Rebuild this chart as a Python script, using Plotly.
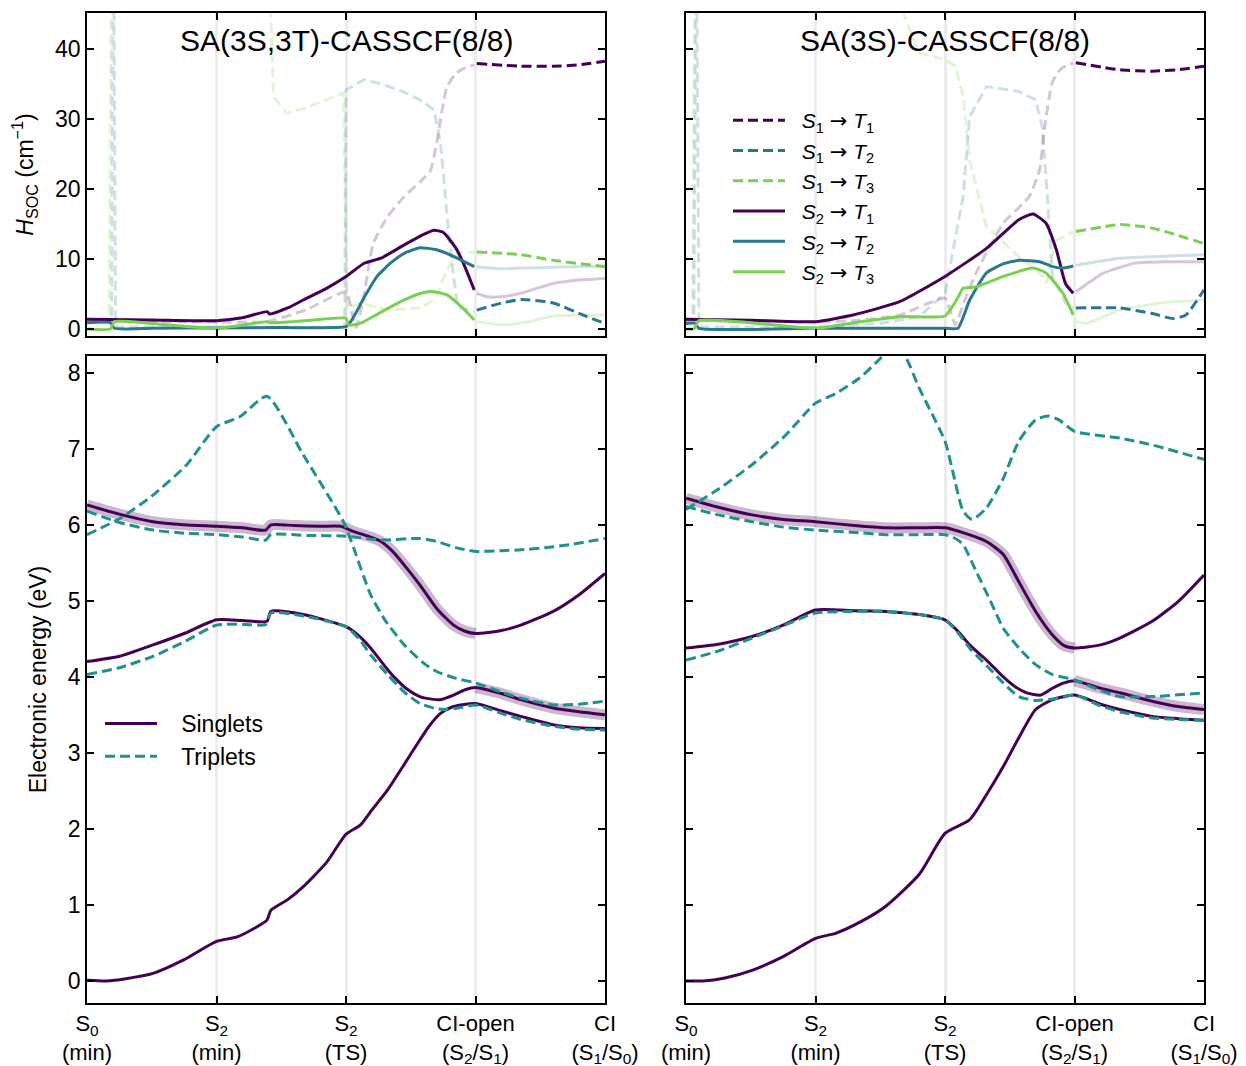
import plotly.graph_objects as go

# ---------------- tick labels / titles ----------------
TICK_VALS = [0, 1, 2, 3, 4]
TICK_TEXT = ["S<sub>0</sub><br>(min)", "S<sub>2</sub><br>(min)", "S<sub>2</sub><br>(TS)",
             "CI-open<br>(S<sub>2</sub>/S<sub>1</sub>)", "CI<br>(S<sub>1</sub>/S<sub>0</sub>)"]
PANEL_TITLES = ["SA(3S,3T)-CASSCF(8/8)", "SA(3S)-CASSCF(8/8)"]

# ---------------- SOC, left (SA(3S,3T)) ----------------
lt_s2t1_x = [0, 0.5, 1.0, 1.2, 1.39, 1.41, 1.55, 1.67, 1.85, 2.0, 2.14, 2.27, 2.45, 2.6, 2.68, 2.75, 2.85, 2.92, 2.99, 3.01, 3.09, 3.2, 3.35, 3.6, 3.8, 4.0]
lt_s2t1_y = [1.38, 1.3, 1.19, 1.6, 2.48, 2.14, 3.0, 4.14, 5.8, 7.48, 9.38, 10.1, 12.0, 13.5, 14.1, 13.8, 11.5, 8.8, 5.57, 5.1, 4.6, 4.6, 5.1, 6.5, 7.0, 7.2]
lt_s2t2_x = [0, 0.18, 0.21, 0.5, 1.0, 1.5, 2.0, 2.03, 2.06, 2.15, 2.24, 2.35, 2.45, 2.57, 2.7, 2.85, 2.99, 3.01, 3.2, 3.35, 3.6, 4.0]
lt_s2t2_y = [0.9, 0.9, 0.1, 0.1, 0.15, 0.2, 0.33, 0.9, 1.76, 4.8, 7.5, 9.5, 10.8, 11.6, 11.3, 10.2, 8.9, 8.9, 8.6, 8.7, 8.8, 9.0]
lt_s2t3_x = [0, 0.18, 0.21, 0.5, 1.0, 1.39, 1.41, 1.7, 2.0, 2.02, 2.11, 2.25, 2.45, 2.6, 2.68, 2.78, 2.9, 2.99, 3.01, 3.22, 3.4, 3.6, 4.0]
lt_s2t3_y = [0, 0, 1.05, 0.8, 0.1, 1.05, 0.9, 1.2, 1.52, 0.57, 0.81, 2.2, 4.14, 5.2, 5.33, 4.86, 3.0, 1.29, 1.05, 0.57, 1.0, 1.86, 2.0]
lt_s1t1_x = [0, 0.5, 1.0, 1.39, 1.7, 2.0, 2.05, 2.08, 2.14, 2.21, 2.32, 2.45, 2.6, 2.65, 2.7, 2.74, 2.78, 2.85, 2.91, 2.99, 3.01, 3.35, 3.6, 3.8, 4.0]
lt_s1t1_y = [1.2, 1.1, 1.0, 1.05, 2.8, 5.3, 2.0, 0.2, 5.0, 12.2, 16.0, 18.9, 21.5, 22.5, 26.5, 31.0, 34.6, 36.5, 37.2, 37.7, 37.9, 37.5, 37.5, 37.7, 38.2]
lt_s1t2_x = [0, 0.19, 0.205, 0.22, 0.5, 1.0, 1.5, 1.99, 2.0, 2.14, 2.3, 2.45, 2.57, 2.68, 2.73, 2.8, 2.86, 2.99, 3.01, 3.2, 3.35, 3.6, 3.86, 4.0]
lt_s1t2_y = [1.0, 1.0, 60, 0.3, 0.3, 0.3, 0.3, 0.3, 34.1, 35.6, 34.8, 33.8, 32.7, 31.3, 26.5, 12.2, 3.2, 2.5, 2.7, 3.7, 4.2, 3.7, 1.76, 0.8]
lt_s1t3_x = [0, 0.17, 0.19, 1.39, 1.44, 1.54, 1.7, 1.98, 2.01, 2.11, 2.32, 2.57, 2.68, 2.78, 2.86, 2.99, 3.01, 3.35, 3.6, 4.0]
lt_s1t3_y = [1.0, 1.0, 60, 60, 33.2, 30.8, 31.6, 33.7, 3.0, 3.7, 2.7, 3.0, 4.1, 8.4, 10.8, 11.0, 11.0, 10.6, 9.8, 8.9]

# ---------------- SOC, right (SA(3S)) ----------------
rt_s2t1_x = [0, 0.5, 1.0, 1.29, 1.65, 2.0, 2.32, 2.57, 2.68, 2.78, 2.86, 2.93, 2.99, 3.01, 3.22, 3.47, 3.7, 4.0]
rt_s2t1_y = [1.38, 1.25, 1.05, 2.0, 3.9, 7.5, 11.5, 15.6, 16.4, 15.1, 11.3, 6.5, 5.1, 5.3, 7.95, 9.4, 9.6, 9.6]
rt_s2t2_x = [0, 0.07, 0.1, 1.0, 2.0, 2.1, 2.19, 2.32, 2.45, 2.57, 2.73, 2.83, 2.91, 2.99, 3.01, 3.35, 3.7, 4.0]
rt_s2t2_y = [0.8, 0.8, 0.1, 0.1, 0.1, 0.1, 4.1, 8.0, 9.3, 9.8, 9.6, 8.9, 8.7, 9.0, 9.1, 10.1, 10.4, 10.6]
rt_s2t3_x = [0, 0.06, 0.1, 0.5, 1.0, 1.3, 1.65, 2.0, 2.1, 2.14, 2.24, 2.45, 2.68, 2.78, 2.91, 2.99, 3.01, 3.09, 3.35, 3.7, 4.0]
rt_s2t3_y = [0, 0, 1.2, 0.9, 0.1, 0.9, 1.76, 1.86, 4.5, 5.8, 6.0, 7.5, 8.7, 8.0, 5.1, 2.0, 1.05, 0.8, 2.7, 3.8, 4.1]
rt_s1t1_x = [0, 0.5, 1.0, 1.3, 1.65, 2.0, 2.05, 2.08, 2.15, 2.24, 2.45, 2.65, 2.73, 2.77, 2.83, 2.9, 2.99, 3.01, 3.35, 3.6, 3.8, 4.0]
rt_s1t1_y = [1.2, 1.1, 1.0, 1.2, 2.0, 4.4, 2.0, 0.6, 4.0, 8.0, 15.1, 18.9, 22.7, 28.9, 35.3, 37.2, 38.0, 38.0, 37.0, 36.8, 37.0, 37.5]
rt_s1t2_x = [0, 0.06, 0.08, 0.1, 0.5, 1.0, 1.5, 1.8, 2.0, 2.14, 2.19, 2.32, 2.57, 2.7, 2.75, 2.78, 2.83, 2.93, 2.99, 3.01, 3.35, 3.6, 3.76, 3.86, 4.0]
rt_s1t2_y = [1.0, 1.0, 60, 0.3, 0.3, 0.3, 0.8, 1.76, 5.1, 18.9, 30.3, 34.6, 33.9, 32.7, 28.9, 21.8, 7.5, 3.7, 3.0, 3.0, 3.0, 2.2, 1.5, 2.0, 5.6]
rt_s1t3_x = [0, 0.05, 0.07, 1.6, 1.67, 1.8, 2.0, 2.08, 2.14, 2.19, 2.32, 2.57, 2.73, 2.78, 2.85, 2.99, 3.01, 3.35, 3.6, 4.0]
rt_s1t3_y = [1.0, 1.0, 60, 60, 45.5, 39.4, 38.4, 37.5, 33.2, 24.1, 14.6, 10.3, 8.0, 6.5, 12.5, 13.9, 13.9, 14.9, 14.4, 12.2]

# ---------------- Energies, left ----------------
lb_s0_x = [0, 0.15, 0.3, 0.51, 0.75, 1.0, 1.16, 1.3, 1.39, 1.42, 1.55, 1.67, 1.85, 2.0, 2.11, 2.2, 2.32, 2.45, 2.57, 2.65, 2.73, 2.83, 3.0, 3.2, 3.35, 3.6, 3.8, 4.0]
lb_s0_y = [0.01, 0.0, 0.03, 0.1, 0.28, 0.52, 0.58, 0.7, 0.8, 0.93, 1.07, 1.24, 1.56, 1.93, 2.05, 2.25, 2.51, 2.85, 3.17, 3.37, 3.52, 3.61, 3.65, 3.55, 3.48, 3.37, 3.33, 3.32]
lb_s1_x = [0, 0.25, 0.51, 0.75, 1.0, 1.2, 1.39, 1.42, 1.67, 2.0, 2.1, 2.19, 2.3, 2.37, 2.47, 2.57, 2.65, 2.73, 2.83, 2.92, 3.0, 3.2, 3.35, 3.6, 3.8, 4.0]
lb_s1_y = [4.2, 4.27, 4.42, 4.57, 4.75, 4.74, 4.73, 4.86, 4.82, 4.66, 4.54, 4.38, 4.14, 4.0, 3.84, 3.74, 3.71, 3.7, 3.76, 3.83, 3.86, 3.78, 3.7, 3.59, 3.54, 3.5]
lb_s2_x = [0, 0.25, 0.51, 0.75, 1.0, 1.2, 1.38, 1.42, 1.6, 1.8, 1.96, 2.06, 2.17, 2.27, 2.36, 2.45, 2.57, 2.7, 2.83, 2.92, 3.0, 3.2, 3.35, 3.6, 3.8, 4.0]
lb_s2_y = [6.26, 6.14, 6.04, 6.0, 5.98, 5.96, 5.93, 6.0, 5.99, 5.98, 5.98, 5.91, 5.85, 5.78, 5.65, 5.47, 5.21, 4.9, 4.68, 4.6, 4.57, 4.61, 4.68, 4.86, 5.08, 5.36]
lb_t1_x = [0, 0.25, 0.51, 0.75, 1.0, 1.2, 1.38, 1.42, 1.67, 2.0, 2.1, 2.19, 2.32, 2.45, 2.57, 2.7, 2.78, 2.9, 3.0, 3.2, 3.35, 3.6, 3.8, 4.0]
lb_t1_y = [4.03, 4.12, 4.27, 4.46, 4.68, 4.69, 4.69, 4.84, 4.8, 4.66, 4.5, 4.29, 4.03, 3.8, 3.65, 3.58, 3.57, 3.6, 3.63, 3.52, 3.44, 3.35, 3.31, 3.3]
lb_t2_x = [0, 0.26, 0.51, 0.77, 1.0, 1.18, 1.39, 1.67, 1.98, 2.06, 2.19, 2.3, 2.45, 2.6, 2.7, 2.85, 3.0, 3.2, 3.35, 3.6, 3.8, 4.0]
lb_t2_y = [5.87, 6.09, 6.39, 6.79, 7.29, 7.42, 7.69, 6.92, 6.04, 5.69, 5.08, 4.75, 4.42, 4.18, 4.07, 3.98, 3.92, 3.8, 3.72, 3.63, 3.64, 3.68]
lb_t3_x = [0, 0.25, 0.51, 0.75, 1.0, 1.2, 1.38, 1.42, 1.7, 2.0, 2.27, 2.57, 2.7, 2.85, 3.0, 3.2, 3.35, 3.55, 3.73, 4.0]
lb_t3_y = [6.18, 6.03, 5.93, 5.89, 5.87, 5.84, 5.8, 5.87, 5.86, 5.85, 5.8, 5.82, 5.78, 5.7, 5.65, 5.66, 5.67, 5.7, 5.74, 5.82]

# ---------------- Energies, right ----------------
rb_s0_x = [0, 0.13, 0.3, 0.51, 0.75, 1.0, 1.16, 1.35, 1.54, 1.8, 2.0, 2.19, 2.32, 2.45, 2.57, 2.7, 2.83, 3.0, 3.2, 3.35, 3.6, 3.8, 4.0]
rb_s0_y = [0.0, 0.0, 0.04, 0.14, 0.32, 0.56, 0.63, 0.78, 0.98, 1.4, 1.94, 2.12, 2.45, 2.82, 3.2, 3.57, 3.7, 3.76, 3.64, 3.57, 3.48, 3.45, 3.43]
rb_s1_x = [0, 0.25, 0.51, 0.75, 1.0, 1.3, 1.54, 1.8, 2.0, 2.1, 2.19, 2.32, 2.45, 2.55, 2.63, 2.74, 2.83, 2.92, 3.0, 3.2, 3.35, 3.6, 3.8, 4.0]
rb_s1_y = [4.38, 4.43, 4.53, 4.68, 4.88, 4.87, 4.86, 4.82, 4.75, 4.6, 4.42, 4.22, 4.0, 3.86, 3.79, 3.76, 3.85, 3.92, 3.95, 3.85, 3.79, 3.68, 3.61, 3.57]
rb_s2_x = [0, 0.25, 0.51, 0.75, 1.0, 1.3, 1.54, 1.8, 2.0, 2.15, 2.32, 2.45, 2.57, 2.7, 2.83, 2.92, 3.0, 3.2, 3.35, 3.6, 3.8, 4.0]
rb_s2_y = [6.35, 6.23, 6.13, 6.07, 6.04, 5.99, 5.96, 5.96, 5.96, 5.89, 5.78, 5.61, 5.25, 4.86, 4.55, 4.41, 4.38, 4.42, 4.51, 4.73, 4.99, 5.34]
rb_t1_x = [0, 0.25, 0.51, 0.75, 1.0, 1.3, 1.54, 1.8, 2.0, 2.1, 2.19, 2.32, 2.45, 2.57, 2.7, 2.88, 3.0, 3.2, 3.35, 3.6, 3.8, 4.0]
rb_t1_y = [4.22, 4.34, 4.51, 4.67, 4.84, 4.86, 4.86, 4.82, 4.75, 4.58, 4.38, 4.15, 3.92, 3.74, 3.69, 3.72, 3.76, 3.62, 3.54, 3.46, 3.44, 3.43]
rb_t2_x = [0, 0.26, 0.51, 0.77, 1.0, 1.16, 1.34, 1.49, 1.6, 1.7, 1.8, 2.0, 2.06, 2.14, 2.21, 2.32, 2.45, 2.57, 2.7, 2.8, 2.88, 3.0, 3.35, 3.6, 4.0]
rb_t2_y = [6.2, 6.48, 6.79, 7.18, 7.6, 7.73, 7.93, 8.17, 8.35, 8.19, 7.8, 7.1, 6.7, 6.18, 6.07, 6.22, 6.61, 7.1, 7.38, 7.43, 7.38, 7.23, 7.14, 7.05, 6.86]
rb_t3_x = [0, 0.25, 0.51, 0.75, 1.0, 1.3, 1.54, 1.8, 2.0, 2.08, 2.14, 2.24, 2.35, 2.45, 2.57, 2.7, 2.83, 3.0, 3.2, 3.35, 3.6, 4.0]
rb_t3_y = [6.24, 6.13, 6.04, 5.97, 5.93, 5.9, 5.87, 5.87, 5.87, 5.82, 5.74, 5.39, 5.0, 4.64, 4.38, 4.16, 4.03, 3.96, 3.82, 3.74, 3.74, 3.79]

# ---------------- styling ----------------
C_T1, C_T2, C_T3 = "#440154", "#2a788e", "#7ad151"
C_SING, C_TRIP = "#440154", "#21918c"
FONT = "Liberation Sans, Arial, Helvetica, sans-serif"
DASH = "10px,5px"
FADE = 0.22
SPLIT = 3.0  # CI-open: S2 relevant before, S1 relevant after
ARROW = '<span style="font-family:DejaVu Sans">→</span>'
PAD2 = "&nbsp;&nbsp;"
PAD3 = "&nbsp;&nbsp;&nbsp;"

W, H = 1246, 1066
def px_x(a, b):
    return [a / W, b / W]
def px_y(top, bottom):
    return [1 - bottom / H, 1 - top / H]

fig = go.Figure()

def part(xs, ys, before):
    pts = [(a, b) for a, b in zip(xs, ys) if (a <= SPLIT if before else a >= SPLIT)]
    return [p[0] for p in pts], [p[1] for p in pts]

def shape_for(y):
    return "linear" if max(y) > 45 else "spline"

def soc_panel(xa, ya, s1, s2, legend):
    names_s1 = [PAD2 + "<i>S</i><sub>1</sub> %s <i>T</i><sub>%d</sub>" % (ARROW, i) for i in (1, 2, 3)]
    names_s2 = [PAD2 + "<i>S</i><sub>2</sub> %s <i>T</i><sub>%d</sub>" % (ARROW, i) for i in (1, 2, 3)]
    cols = [C_T1, C_T2, C_T3]
    for (x, y), c in zip(s1, cols):
        fx, fy = part(x, y, True)
        fig.add_trace(go.Scatter(x=fx, y=fy, mode="lines", xaxis=xa, yaxis=ya, opacity=FADE,
                                 line=dict(color=c, width=3, dash=DASH, shape=shape_for(fy), smoothing=0.5),
                                 showlegend=False, hoverinfo="skip"))
    for (x, y), c in zip(s2, cols):
        fx, fy = part(x, y, False)
        fig.add_trace(go.Scatter(x=fx, y=fy, mode="lines", xaxis=xa, yaxis=ya, opacity=FADE,
                                 line=dict(color=c, width=3, shape=shape_for(fy), smoothing=0.5),
                                 showlegend=False, hoverinfo="skip"))
    for (x, y), c, n in zip(s1, cols, names_s1):
        fx, fy = part(x, y, False)
        fig.add_trace(go.Scatter(x=fx, y=fy, mode="lines", xaxis=xa, yaxis=ya, name=n,
                                 line=dict(color=c, width=3, dash=DASH, shape=shape_for(fy), smoothing=0.5),
                                 showlegend=legend))
    for (x, y), c, n in zip(s2, cols, names_s2):
        fx, fy = part(x, y, True)
        fig.add_trace(go.Scatter(x=fx, y=fy, mode="lines", xaxis=xa, yaxis=ya, name=n,
                                 line=dict(color=c, width=3, shape=shape_for(fy), smoothing=0.5),
                                 showlegend=legend))

def energy_panel(xa, ya, s0, s1, s2, t1, t2, t3, legend):
    hx1, hy1 = part(s2[0], s2[1], True)
    hx2, hy2 = part(s1[0], s1[1], False)
    for hx, hy in ((hx1, hy1), (hx2, hy2)):
        fig.add_trace(go.Scatter(x=hx, y=hy, mode="lines", xaxis=xa, yaxis=ya,
                                 line=dict(color="rgba(68,1,84,0.28)", width=11, shape="spline", smoothing=0.6),
                                 showlegend=False, hoverinfo="skip"))
    for i, (x, y) in enumerate((s0, s1, s2)):
        fig.add_trace(go.Scatter(x=x, y=y, mode="lines", xaxis=xa, yaxis=ya, name=PAD3 + "Singlets",
                                 line=dict(color=C_SING, width=3, shape="spline", smoothing=0.6),
                                 legend="legend2", showlegend=(legend and i == 0)))
    for i, (x, y) in enumerate((t1, t2, t3)):
        fig.add_trace(go.Scatter(x=x, y=y, mode="lines", xaxis=xa, yaxis=ya, name=PAD3 + "Triplets",
                                 line=dict(color=C_TRIP, width=3, dash=DASH, shape="spline", smoothing=0.6),
                                 legend="legend2", showlegend=(legend and i == 0)))

soc_panel("x", "y",
          [(lt_s1t1_x, lt_s1t1_y), (lt_s1t2_x, lt_s1t2_y), (lt_s1t3_x, lt_s1t3_y)],
          [(lt_s2t1_x, lt_s2t1_y), (lt_s2t2_x, lt_s2t2_y), (lt_s2t3_x, lt_s2t3_y)], False)
soc_panel("x2", "y2",
          [(rt_s1t1_x, rt_s1t1_y), (rt_s1t2_x, rt_s1t2_y), (rt_s1t3_x, rt_s1t3_y)],
          [(rt_s2t1_x, rt_s2t1_y), (rt_s2t2_x, rt_s2t2_y), (rt_s2t3_x, rt_s2t3_y)], True)
energy_panel("x3", "y3", (lb_s0_x, lb_s0_y), (lb_s1_x, lb_s1_y), (lb_s2_x, lb_s2_y),
             (lb_t1_x, lb_t1_y), (lb_t2_x, lb_t2_y), (lb_t3_x, lb_t3_y), True)
energy_panel("x4", "y4", (rb_s0_x, rb_s0_y), (rb_s1_x, rb_s1_y), (rb_s2_x, rb_s2_y),
             (rb_t1_x, rb_t1_y), (rb_t2_x, rb_t2_y), (rb_t3_x, rb_t3_y), False)

TICKFONT = dict(size=23, color="black")
XTICKFONT = dict(size=22, color="black")

def xaxis(domain, anchor, labels):
    return dict(domain=domain, anchor=anchor, range=[0, 4], tickvals=TICK_VALS,
                ticktext=TICK_TEXT if labels else None, showticklabels=labels,
                ticks="inside", ticklen=7, tickwidth=1.5, tickcolor="black",
                showline=True, linecolor="black", linewidth=1.5, mirror="ticks",
                showgrid=True, gridcolor="#ececec", gridwidth=3, zeroline=False,
                automargin=False, tickfont=XTICKFONT)

def yaxis(domain, anchor, rng, dtick, labels, title=None):
    d = dict(domain=domain, anchor=anchor, range=rng, dtick=dtick, tick0=0,
             showticklabels=labels, ticks="inside", ticklen=7, tickwidth=1.5, tickcolor="black",
             showline=True, linecolor="black", linewidth=1.5, mirror="ticks",
             showgrid=False, zeroline=False, automargin=False, tickfont=TICKFONT)
    if title:
        d["title"] = dict(text=title, font=dict(size=23, color="black"))
    return d

XL, XR = px_x(87, 605), px_x(686, 1204)
YT, YB = px_y(13, 336), px_y(356, 1003)

fig.update_layout(
    width=W, height=H, margin=dict(l=0, r=0, t=0, b=0, autoexpand=False),
    paper_bgcolor="white", plot_bgcolor="white",
    font=dict(family=FONT, size=23, color="black"),
    xaxis=xaxis(XL, "y", False), xaxis2=xaxis(XR, "y2", False),
    xaxis3=xaxis(XL, "y3", True), xaxis4=xaxis(XR, "y4", True),
    yaxis=yaxis(YT, "x", [-1, 45.1], 10, True, "<i>H</i><sub>SOC</sub> (cm<sup>−1</sup>)"),
    yaxis2=yaxis(YT, "x2", [-1, 45.1], 10, False),
    yaxis3=yaxis(YB, "x3", [-0.29, 8.22], 1, True, "Electronic energy (eV)"),
    yaxis4=yaxis(YB, "x4", [-0.29, 8.22], 1, False),
    legend=dict(x=728 / W, y=1 - 100 / H, xanchor="left", yanchor="top",
                bgcolor="rgba(0,0,0,0)", font=dict(size=21), itemwidth=52, tracegroupgap=0),
    legend2=dict(x=100 / W, y=1 - 702 / H, xanchor="left", yanchor="top",
                 bgcolor="rgba(0,0,0,0)", font=dict(size=23), itemwidth=52),
    showlegend=True,
)

for i, t in enumerate(PANEL_TITLES):
    fig.add_annotation(text=t, xref="x%s domain" % ("" if i == 0 else "2"),
                       yref="y%s domain" % ("" if i == 0 else "2"),
                       x=0.5, y=0.915, xanchor="center", yanchor="middle",
                       showarrow=False, font=dict(size=30, color="black"))

fig.write_html("out.html")
